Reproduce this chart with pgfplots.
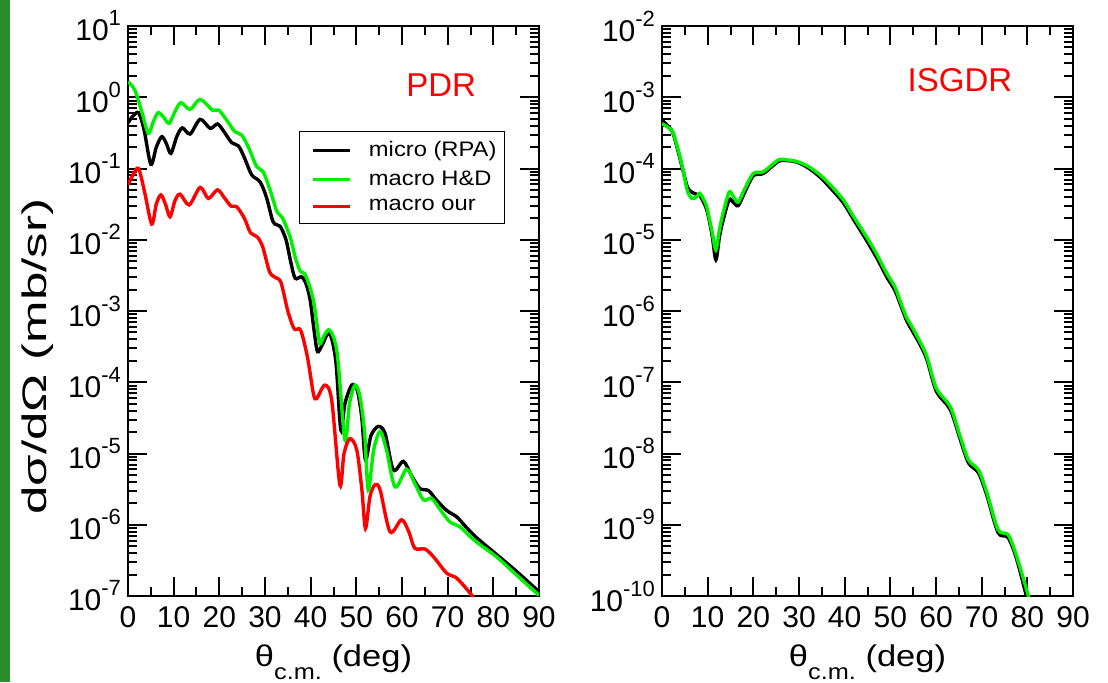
\documentclass[border=0pt]{standalone}
\usepackage{fontspec}
\setmainfont{Liberation Sans}
\usepackage{pgfplots}
\usepackage{pgfplotstable}
\pgfplotsset{compat=1.18}
\definecolor{myred}{RGB}{255,0,0}
\definecolor{mygreen}{RGB}{0,240,0}
\definecolor{stripe}{RGB}{44,140,44}
\newcommand{\tl}[1]{10\raisebox{7.5pt}{\fontsize{11}{11}\selectfont #1}}

% log10 of d sigma / d Omega (mb/sr)
\pgfplotstableread{
x L
0 -0.36
1 -0.27
2.3 -0.217
3.5 -0.45
5.0 -0.94
6.2 -0.70
7.4 -0.553
8.4 -0.65
9.4 -0.787
10.7 -0.55
11.9 -0.43
13.6 -0.516
15.8 -0.31
18.0 -0.436
19.6 -0.375
21.0 -0.48
22.7 -0.637
24.2 -0.684
25.5 -0.85
27.1 -1.09
28.9 -1.185
30.3 -1.40
31.8 -1.75
33.3 -1.81
34.6 -2.0
35.6 -2.3
36.6 -2.54
38.0 -2.52
39.0 -2.62
39.9 -2.85
40.8 -3.3
41.5 -3.57
42.5 -3.48
44.1 -3.31
45.5 -3.7
46.6 -4.67
47.5 -4.3
49.0 -4.04
50.2 -4.11
51.2 -4.5
52.0 -5.09
53.2 -4.75
54.8 -4.62
56.3 -4.72
58.1 -5.23
60.3 -5.11
62.0 -5.3
63.9 -5.49
65.8 -5.52
67.5 -5.65
69.8 -5.80
72.0 -5.89
74.0 -6.03
76.3 -6.18
80.0 -6.38
85.0 -6.65
90.0 -6.94
}\pdrmicro

\pgfplotstableread{
x L
0 0.22
1.5 0.1
3.0 -0.2
4.45 -0.506
5.5 -0.35
6.6 -0.217
7.8 -0.28
9.0 -0.366
10.3 -0.2
11.6 -0.076
13.6 -0.17
15.8 -0.03
18.5 -0.18
19.9 -0.18
21.7 -0.33
23.4 -0.483
24.9 -0.53
26.5 -0.72
28.2 -0.975
29.6 -1.045
31.1 -1.3
32.6 -1.6
33.8 -1.69
35.5 -1.96
36.6 -2.24
37.7 -2.44
38.6 -2.47
39.5 -2.6
40.6 -2.85
41.3 -3.15
42.0 -3.46
42.9 -3.35
44.2 -3.27
45.8 -3.59
47.5 -4.81
48.5 -4.3
49.7 -4.04
50.8 -4.20
51.8 -4.7
52.6 -5.51
53.8 -4.95
55.2 -4.69
56.6 -4.95
58.5 -5.47
61.0 -5.22
62.8 -5.42
64.7 -5.65
66.5 -5.63
68.5 -5.8
70.5 -5.96
72.7 -6.03
75.0 -6.17
77.1 -6.28
80.7 -6.45
85.0 -6.7
90.0 -6.99
}\pdrhd

\pgfplotstableread{
x L
0 -1.23
1.0 -1.1
2.3 -1.0
3.7 -1.35
5.2 -1.78
6.2 -1.50
7.2 -1.37
8.2 -1.50
9.2 -1.676
10.3 -1.45
11.4 -1.36
13.4 -1.51
15.8 -1.265
17.6 -1.42
19.6 -1.30
21.2 -1.42
22.6 -1.53
23.8 -1.536
25.5 -1.7
26.8 -1.9
28.3 -1.96
29.5 -2.1
31.0 -2.45
32.3 -2.53
33.5 -2.6
35.0 -3.0
36.4 -3.25
37.8 -3.27
39.3 -3.65
40.6 -4.16
41.3 -4.23
43.1 -4.04
44.6 -4.25
46.4 -5.44
47.3 -5.0
48.6 -4.79
50.1 -4.95
51.2 -5.5
52.0 -6.05
53.0 -5.6
54.1 -5.44
55.2 -5.51
57.4 -6.10
59.9 -5.93
61.5 -6.1
62.8 -6.33
65.0 -6.34
66.9 -6.45
69.8 -6.68
72.0 -6.75
75.3 -6.99
76.0 -7.08
}\pdrour

\pgfplotstableread{
x L
0 -3.32
1.5 -3.42
2.5 -3.52
4.3 -3.95
5.5 -4.25
6.5 -4.33
7.5 -4.36
8.3 -4.38
9.8 -4.58
11.0 -4.95
11.8 -5.28
12.6 -4.95
13.4 -4.72
14.7 -4.44
15.7 -4.48
16.7 -4.52
18.0 -4.35
20.0 -4.1
22.2 -4.07
25.5 -3.90
27.5 -3.89
29.5 -3.91
32.0 -3.99
34.6 -4.12
37.0 -4.28
39.7 -4.48
42.0 -4.72
44.8 -5.01
47.0 -5.25
49.2 -5.52
51.0 -5.71
52.1 -5.89
53.6 -6.14
54.3 -6.22
56.5 -6.47
58.0 -6.68
60.1 -7.13
63.1 -7.38
65.3 -7.80
67.1 -8.13
69.3 -8.27
71.1 -8.58
73.6 -9.11
75.8 -9.18
77.7 -9.49
79.8 -10.0
80.2 -10.08
}\gdrmicro

\pgfplotstableread{
x L
0 -3.37
1.5 -3.43
2.5 -3.51
4.3 -3.93
5.5 -4.3
6.5 -4.42
7.5 -4.40
8.3 -4.35
9.0 -4.42
9.8 -4.54
11.0 -4.9
11.8 -5.14
12.6 -4.85
13.4 -4.62
14.7 -4.33
15.7 -4.4
16.7 -4.47
18.0 -4.3
20.0 -4.07
22.2 -4.045
25.5 -3.88
27.5 -3.88
29.5 -3.90
32.0 -3.97
34.6 -4.09
37.0 -4.24
39.7 -4.44
42.0 -4.68
44.8 -4.96
47.0 -5.2
49.2 -5.47
51.0 -5.66
52.1 -5.85
53.6 -6.10
54.3 -6.17
56.5 -6.43
58.0 -6.64
60.1 -7.09
63.1 -7.34
65.3 -7.76
67.1 -8.09
69.3 -8.23
71.1 -8.54
73.6 -9.07
75.8 -9.14
77.7 -9.45
80.2 -9.99
80.5 -10.05
}\gdrhd

\pgfplotsset{
  myaxis/.style={
    scale only axis,
    width=205.5pt, height=285pt,
    xmin=0, xmax=90,
    xtick={0,10,...,90},
    minor x tick num=1,
    axis line style={line width=1.2pt},
    every tick/.style={black, line width=1pt},
    major tick length=9.5pt,
    minor tick length=4.5pt,
    tick align=inside,
    xtick pos=both, ytick pos=both,
    tick label style={font=\fontsize{15}{17}\selectfont},
    xticklabel style={yshift=-1.5pt},
    /pgf/number format/assume math mode=true,
    xlabel={\scalebox{1.15}[1]{\fontsize{15}{18}\selectfont θ\raisebox{-6.5pt}{\fontsize{11}{11}\selectfont c.m.} (deg)}},
    xlabel style={at={(axis description cs:0.5,0)}, anchor=north, yshift=-21pt},
    every axis plot/.append style={line width=1.7pt, smooth, tension=0.5},
  },
}

\begin{document}
\begin{tikzpicture}
\useasboundingbox (-64pt,-43pt) rectangle (490pt,298pt);
\fill[stripe] (-64pt,-43pt) rectangle (-59pt,298pt);
\begin{axis}[ymode=log, myaxis,
  ymin=1e-7, ymax=10,
  ytick={1e-7,1e-6,1e-5,1e-4,1e-3,1e-2,1e-1,1,10},
  yticklabels={\tl{-7},\tl{-6},\tl{-5},\tl{-4},\tl{-3},\tl{-2},\tl{-1},\tl{0},\tl{1}},
  ylabel={\scalebox{1.5}[1]{\fontsize{17}{20}\selectfont dσ/dΩ (mb/sr)}},
  ylabel style={at={(axis description cs:-0.219,0.42)}, anchor=center},
  legend style={at={(0.416,0.816)}, anchor=north west, draw=black, line width=0.6pt,
    font=\fontsize{10.5}{12}\selectfont, inner xsep=2pt, inner ysep=3pt, row sep=1.5pt,
    /tikz/every odd column/.append style={column sep=6.5pt}},
  legend cell align=left,
  legend image code/.code={\path (0pt,0pt); \draw[#1, line width=1.7pt, sharp plot] (4pt,0pt) -- (22.5pt,0pt);},
]
\addplot[black] table[x=x, y expr={10^(\thisrow{L})}] {\pdrmicro};
\addlegendentry{\scalebox{1.13}[1]{micro (RPA)}}
\addplot[mygreen] table[x=x, y expr={10^(\thisrow{L})}] {\pdrhd};
\addlegendentry{\scalebox{1.13}[1]{macro H\&D}}
\addplot[myred] table[x=x, y expr={10^(\thisrow{L})}] {\pdrour};
\addlegendentry{\scalebox{1.13}[1]{macro our}}
\node[text=myred, font=\fontsize{16.5}{18}\selectfont] at (axis description cs:0.762,0.896) {PDR};
\end{axis}
\begin{axis}[ymode=log, myaxis, xshift=267pt,
  ymin=1e-10, ymax=1e-2,
  ytick={1e-10,1e-9,1e-8,1e-7,1e-6,1e-5,1e-4,1e-3,1e-2},
  yticklabels={\tl{-10},\tl{-9},\tl{-8},\tl{-7},\tl{-6},\tl{-5},\tl{-4},\tl{-3},\tl{-2}},
]
\addplot[black] table[x=x, y expr={10^(\thisrow{L})}] {\gdrmicro};
\addplot[mygreen] table[x=x, y expr={10^(\thisrow{L})}] {\gdrhd};
\node[text=myred, font=\fontsize{16.5}{18}\selectfont] at (axis description cs:0.725,0.905) {ISGDR};
\end{axis}
\end{tikzpicture}
\end{document}
